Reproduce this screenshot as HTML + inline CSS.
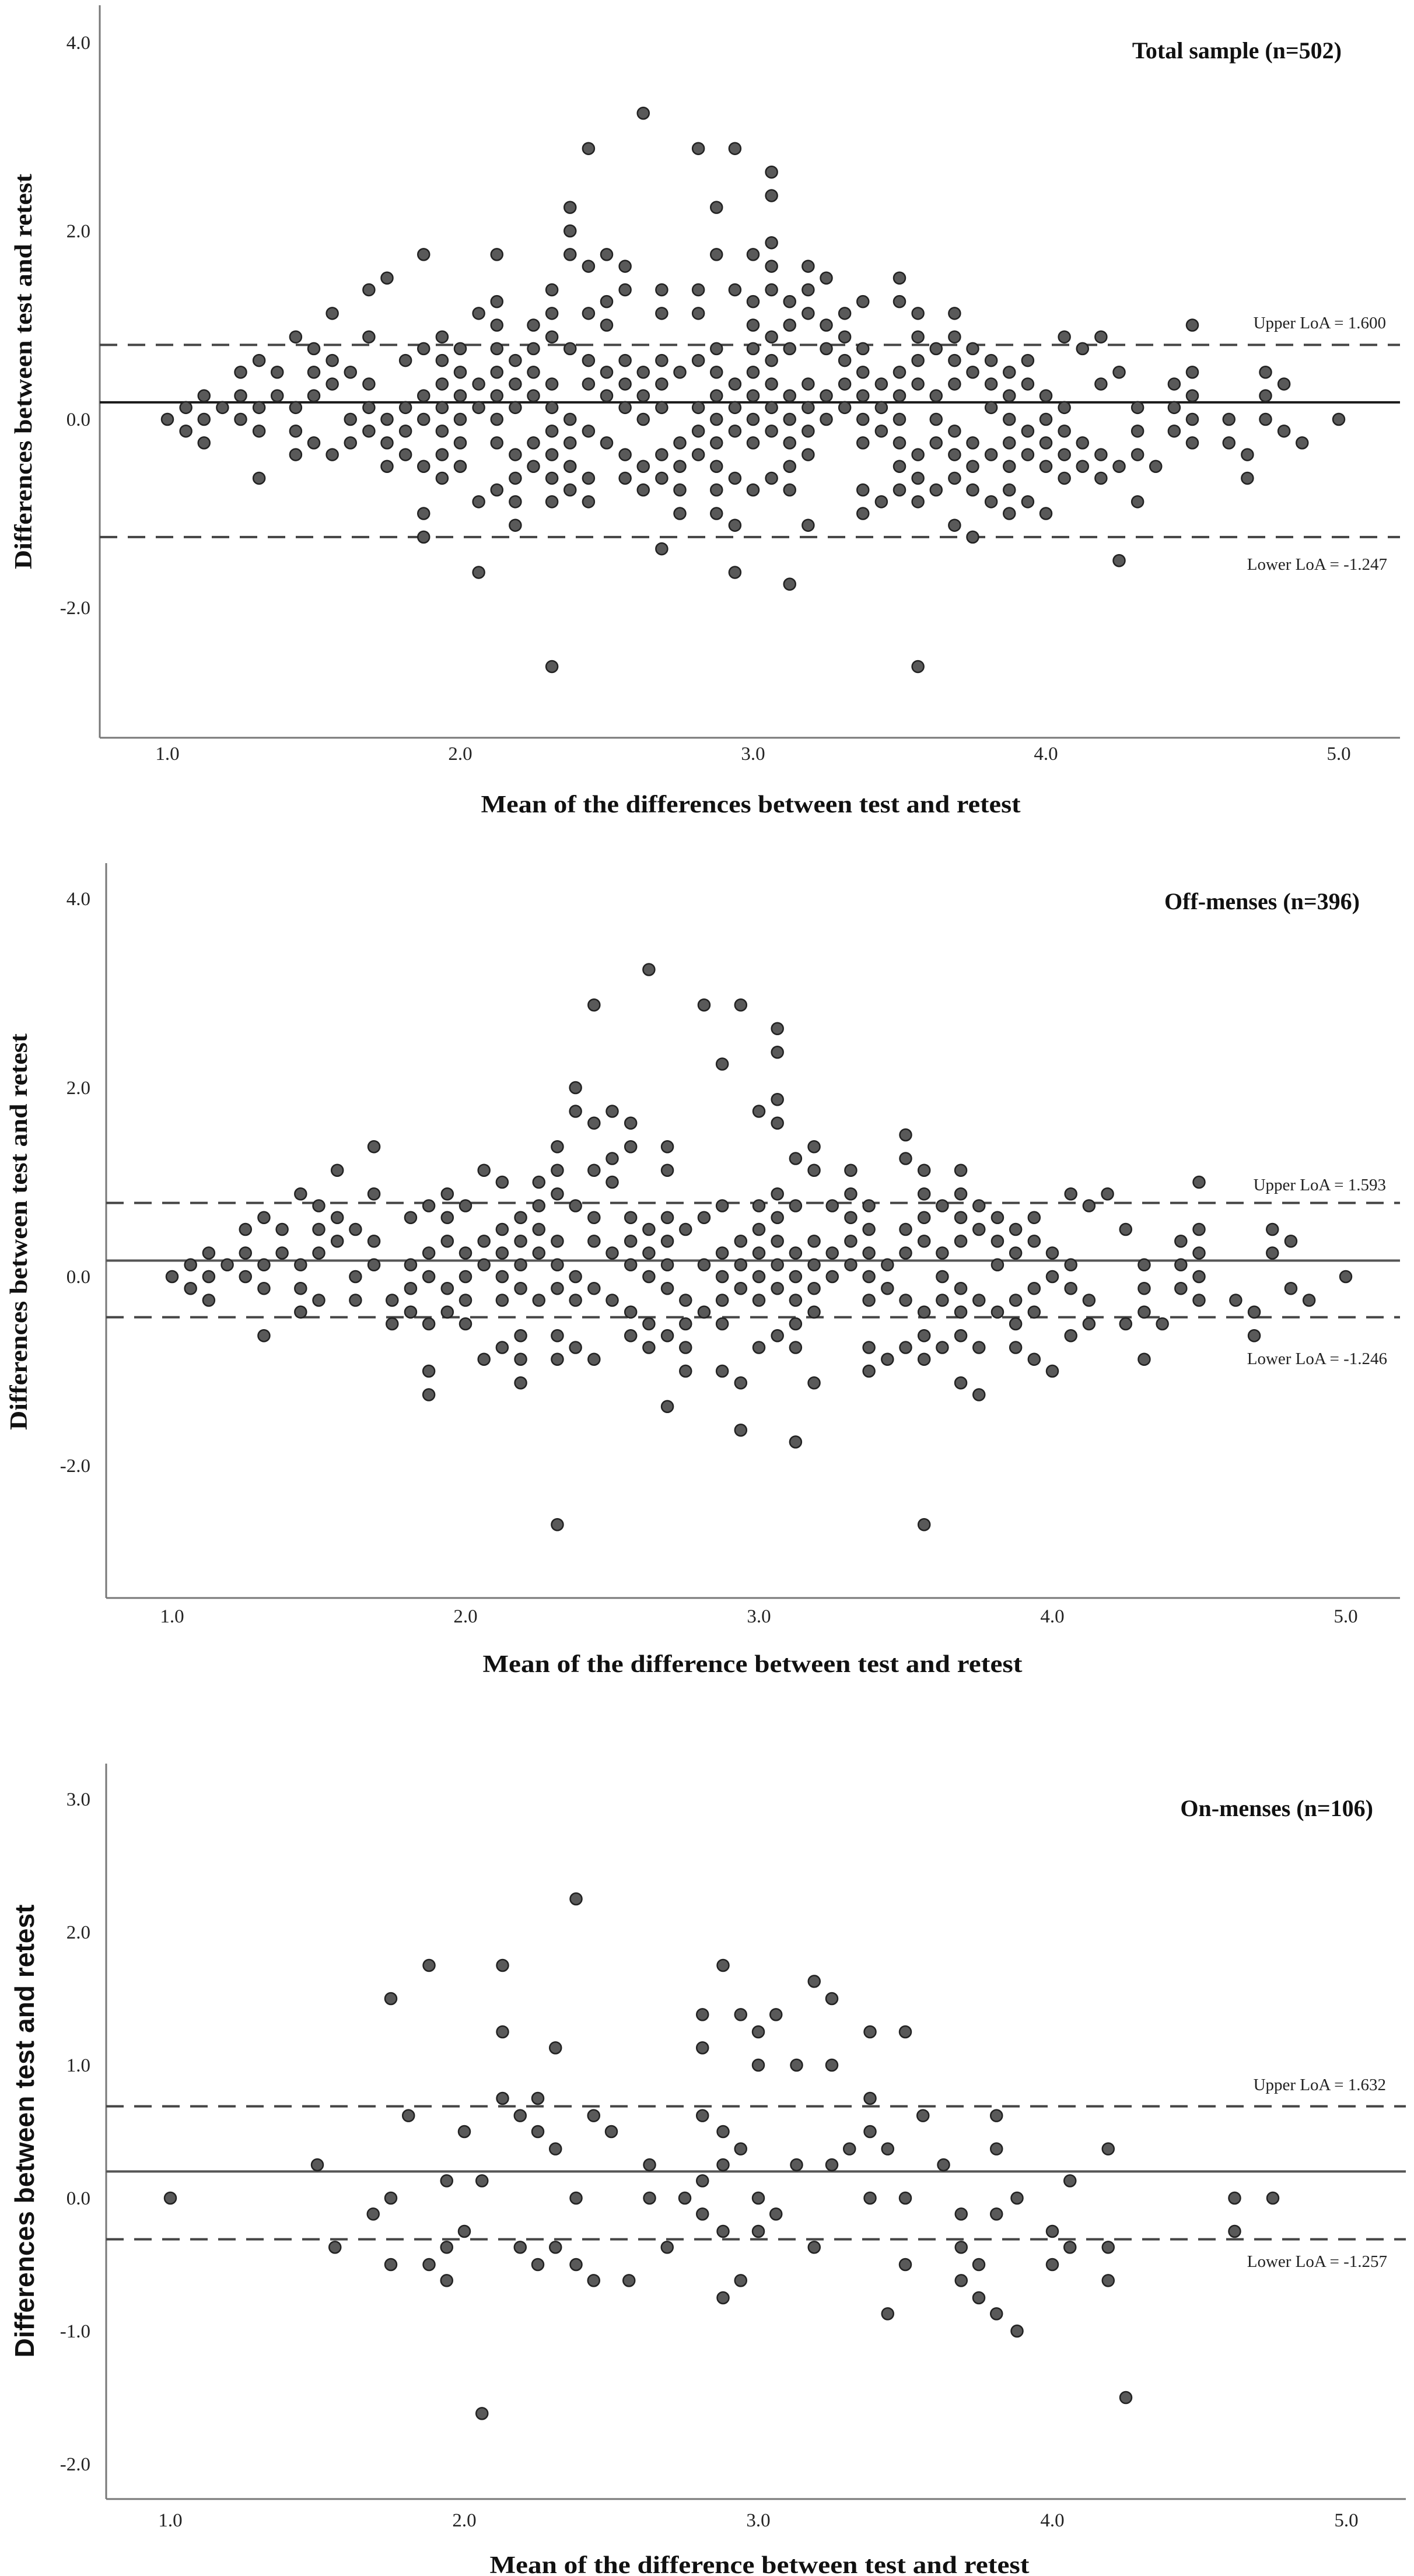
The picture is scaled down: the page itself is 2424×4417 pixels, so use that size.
<!DOCTYPE html>
<html><head><meta charset="utf-8"><style>
html,body{margin:0;padding:0;background:#fff;}
svg{display:block;}
</style></head><body>
<svg id="chart" width="2424" height="4417" viewBox="0 0 2424 4417" xmlns="http://www.w3.org/2000/svg" font-family="'Liberation Serif', serif"></svg>
<script>
// ---------- DATA ----------
const colX = [1,1.063,1.125,1.188,1.25,1.313,1.375,1.438,1.5,1.563,1.625,1.688,1.75,1.813,1.875,1.938,2,2.063,2.125,2.188,2.25,2.313,2.375,2.438,2.5,2.563,2.625,2.688,2.75,2.813,2.875,2.938,3,3.063,3.125,3.188,3.25,3.313,3.375,3.438,3.5,3.563,3.625,3.688,3.75,3.813,3.875,3.938,4,4.063,4.125,4.188,4.25,4.313,4.375,4.438,4.5,4.625,4.688,4.75,4.813,4.875,5];
const totalDiffs = [[0],[.125,-.125],[.25,0,-.25],[.125],[.5,.25,0],[.625,.125,-.125,-.625],[.5,.25],[.875,.125,-.125,-.375],[.75,.5,.25,-.25],[1.125,.625,.375,-.375],[.5,0,-.25],[1.375,.875,.375,.125,-.125],[1.5,0,-.25,-.5],[.625,.125,-.125,-.375],[1.75,.75,.25,0,-.5,-1,-1.25],[.875,.625,.375,.125,-.125,-.375,-.625],[.75,.5,.25,0,-.25,-.5],[1.125,.375,.125,-.875,-1.625],[1.75,1.25,1,.75,.5,.25,0,-.25,-.75],[.625,.375,.125,-.375,-.625,-.875,-1.125],[1,.75,.5,.25,-.25,-.5],[1.375,1.125,.875,.375,.125,-.125,-.375,-.625,-.875,-2.625],[2.25,2,1.75,.75,0,-.25,-.5,-.75],[2.875,1.625,1.125,.625,.375,-.125,-.625,-.875],[1.75,1.25,1,.5,.25,-.25],[1.625,1.375,.625,.375,.125,-.375,-.625],[3.25,.5,.25,0,-.5,-.75],[1.375,1.125,.625,.375,.125,-.375,-.625,-1.375],[.5,-.25,-.5,-.75,-1],[2.875,1.375,1.125,.625,.125,-.125,-.375],[2.25,1.75,.75,.5,.25,0,-.25,-.5,-.75,-1],[2.875,1.375,.375,.125,-.125,-.625,-1.125,-1.625],[1.75,1.25,1,.75,.5,.25,0,-.25,-.75],[2.625,2.375,1.875,1.625,1.375,.875,.625,.375,.125,-.125,-.625],[1.25,1,.75,.25,0,-.25,-.5,-.75,-1.75],[1.625,1.375,1.125,.375,.125,-.125,-.375,-1.125],[1.5,1,.75,.25,0],[1.125,.875,.625,.375,.125],[1.25,.75,.5,.25,0,-.25,-.75,-1],[.375,.125,-.125,-.875],[1.5,1.25,.5,.25,0,-.25,-.5,-.75],[1.125,.875,.625,.375,-.375,-.625,-.875,-2.625],[.75,.25,0,-.25,-.75],[1.125,.875,.625,.375,-.125,-.375,-.625,-1.125],[.75,.5,-.25,-.5,-.75,-1.25],[.625,.375,.125,-.375,-.875],[.5,.25,0,-.25,-.5,-.75,-1],[.625,.375,-.125,-.375,-.875],[.25,0,-.25,-.5,-1],[.875,.125,-.125,-.375,-.625],[.75,-.25,-.5],[.875,.375,-.375,-.625],[.5,-.5,-1.5],[.125,-.125,-.375,-.875],[-.5],[.375,.125,-.125],[1,.5,.25,0,-.25],[0,-.25],[-.375,-.625],[.5,.25,0],[.375,-.125],[-.25],[0]];
const offDiffs = [[0],[.125,-.125],[.25,0,-.25],[.125],[.5,.25,0],[.625,.125,-.125,-.625],[.5,.25],[.875,.125,-.125,-.375],[.75,.5,.25,-.25],[1.125,.625,.375],[.5,0,-.25],[1.375,.875,.375,.125],[-.25,-.5],[.625,.125,-.125,-.375],[.75,.25,0,-.5,-1,-1.25],[.875,.625,.375,-.125,-.375],[.75,.25,0,-.25,-.5],[1.125,.375,.125,-.875],[1,.5,.25,0,-.25,-.75],[.625,.375,.125,-.125,-.625,-.875,-1.125],[1,.75,.5,.25,-.25],[1.375,1.125,.875,.375,.125,-.125,-.625,-.875,-2.625],[2,1.75,.75,0,-.25,-.75],[2.875,1.625,1.125,.625,.375,-.125,-.875],[1.75,1.25,1,.25,-.25],[1.625,1.375,.625,.375,.125,-.375,-.625],[3.25,.5,.25,0,-.5,-.75],[1.375,1.125,.625,.375,.125,-.125,-.625,-1.375],[.5,-.25,-.5,-.75,-1],[2.875,.625,.125,-.375],[2.25,.75,.25,0,-.25,-.5,-1],[2.875,.375,.125,-.125,-1.125,-1.625],[1.75,.75,.5,.25,0,-.25,-.75],[2.625,2.375,1.875,1.625,.875,.625,.375,.125,-.125,-.625],[1.25,.75,.25,0,-.25,-.5,-.75,-1.75],[1.375,1.125,.375,.125,-.125,-.375,-1.125],[.75,.25,0],[1.125,.875,.625,.375,.125],[.75,.5,.25,0,-.25,-.75,-1],[.125,-.125,-.875],[1.5,1.25,.5,.25,-.25,-.75],[1.125,.875,.625,.375,-.375,-.625,-.875,-2.625],[.75,.25,0,-.25,-.75],[1.125,.875,.625,.375,-.125,-.375,-.625,-1.125],[.75,.5,-.25,-.75,-1.25],[.625,.375,.125,-.375],[.5,.25,-.25,-.5,-.75],[.625,.375,-.125,-.375,-.875],[.25,0,-1],[.875,.125,-.125,-.625],[.75,-.25,-.5],[.875],[.5,-.5],[.125,-.125,-.375,-.875],[-.5],[.375,.125,-.125],[1,.5,.25,0,-.25],[-.25],[-.375,-.625],[.5,.25],[.375,-.125],[-.25],[0]];
const onMean = [1,1.5,1.56,1.69,1.75,1.75,1.75,1.81,1.88,1.88,1.94,1.94,1.94,2,2,2.06,2.06,2.13,2.13,2.13,2.19,2.19,2.25,2.25,2.25,2.31,2.31,2.31,2.38,2.38,2.38,2.44,2.44,2.5,2.56,2.63,2.63,2.69,2.75,2.81,2.81,2.81,2.81,2.81,2.88,2.88,2.88,2.88,2.88,2.94,2.94,2.94,3,3,3,3,3.06,3.06,3.13,3.13,3.19,3.19,3.25,3.25,3.25,3.31,3.38,3.38,3.38,3.38,3.44,3.44,3.5,3.5,3.5,3.56,3.63,3.69,3.69,3.69,3.75,3.75,3.81,3.81,3.81,3.81,3.88,3.88,4,4,4.06,4.06,4.19,4.19,4.19,4.25,4.62,4.62,4.75];
const onDiff = [0,.25,-.37,-.12,1.5,0,-.5,.62,1.75,-.5,.13,-.37,-.62,.5,-.25,.13,-1.62,1.75,1.25,.75,.62,-.37,.75,.5,-.5,1.13,.37,-.37,2.25,0,-.5,.62,-.62,.5,-.62,.25,0,-.37,0,1.38,1.13,.62,.13,-.12,1.75,.5,.25,-.25,-.75,1.38,.37,-.62,1.25,1,0,-.25,1.38,-.12,1,.25,1.63,-.37,1.5,1,.25,.37,1.25,.75,.5,0,.37,-.87,1.25,0,-.5,.62,.25,-.12,-.37,-.62,-.5,-.75,.62,.37,-.12,-.87,0,-1,-.25,-.5,.13,-.37,.37,-.37,-.62,-1.5,0,-.25,0];
const xTicks = [1,2,3,4,5];
const yTicksA = [4,2,0,-2];
const yTicksC = [3,2,1,0,-1,-2];
const biasLines = [0.18, 0.17, 0.2];
const upperLines = [0.79, 0.78, 0.69];
const lowerLines = [-1.25, -0.43, -0.31];
const titles = ["Total sample (n=502)","Off-menses (n=396)","On-menses (n=106)"];
const upperLabels = ["Upper LoA = 1.600","Upper LoA = 1.593","Upper LoA = 1.632"];
const lowerLabels = ["Lower LoA = -1.247","Lower LoA = -1.246","Lower LoA = -1.257"];

// ---------- GEOMETRY ----------
const panels = [
 {L:171,T:9,B:1265,R:2400,x1:287,xu:502,y0:719,yu:161.5,yt:yTicksA,xl:1292,tY:86,uY:553,lY:967,xtY:1379,xtx:1287,ytX:39,ytY:637,ytLen:678,xt:"Mean of the differences between test and retest",sans:false,meanCol:"#1a1a1a"},
 {L:182,T:1480,B:2740,R:2400,x1:295,xu:503,y0:2189,yu:162,yt:yTicksA,xl:2771,tY:1545,uY:2031,lY:2329,xtY:2853,xtx:1290,ytX:31,ytY:2112,ytLen:680,xt:"Mean of the difference between test and retest",sans:false,meanCol:"#555"},
 {L:182,T:3024,B:4285,R:2410,x1:292,xu:504,y0:3769,yu:228,yt:yTicksC,xl:4321,tY:3100,uY:3574,lY:3877,xtY:4398,xtx:1302,ytX:43,ytY:3654,ytLen:777,xt:"Mean of the difference between test and retest",sans:true,meanCol:"#555"}
];
const NS="http://www.w3.org/2000/svg";
const svg=document.getElementById('chart');
function mk(tag,attrs,parent,txt){const e=document.createElementNS(NS,tag);for(const k in attrs)e.setAttribute(k,attrs[k]);if(txt!==undefined)e.textContent=txt;(parent||svg).appendChild(e);return e;}

function drawPanel(i,points){
  const p=panels[i];
  const X=v=>p.x1+(v-1)*p.xu, Y=v=>p.y0-v*p.yu;
  const g=mk('g',{});
  
  
  const ya=mk('line',{x1:p.L,y1:p.T,x2:p.L,y2:p.B,stroke:'#777','stroke-width':3},g);
  
  
  const xa=mk('line',{x1:p.L,y1:p.B,x2:p.R,y2:p.B,stroke:'#777','stroke-width':3},g);
  
  
  xTicks.forEach(v=>{const t=mk('text',{x:X(v),y:p.xl+11,'text-anchor':'middle','font-size':33,fill:'#222'},g,v.toFixed(1));
    
    });
  p.yt.forEach(v=>{const t=mk('text',{x:155,y:Y(v)+11,'text-anchor':'end','font-size':33,fill:'#222'},g,v.toFixed(1));
    
    });
  const ub=mk('line',{x1:p.L,y1:Y(upperLines[i]),x2:p.R,y2:Y(upperLines[i]),stroke:'#444','stroke-width':4,'stroke-dasharray':'30 18'},g);
  
  
  const lb=mk('line',{x1:p.L,y1:Y(lowerLines[i]),x2:p.R,y2:Y(lowerLines[i]),stroke:'#444','stroke-width':4,'stroke-dasharray':'30 18'},g);
  
  
  const ml=mk('line',{x1:p.L,y1:Y(biasLines[i]),x2:p.R,y2:Y(biasLines[i]),stroke:p.meanCol,'stroke-width':4},g);
  
  
  points.forEach(pt=>{const c=mk('circle',{cx:X(pt[0]),cy:Y(pt[1]),r:10,fill:'#595959',stroke:'#222','stroke-width':2.5},g);
    
    });
  const ti=mk('text',{x:i==2?2354:(i==1?2331:2300),y:p.tY+14,'text-anchor':'end','font-size':40,'font-weight':'bold',fill:'#111'},g,titles[i]);
  
  
  const ul=mk('text',{x:2376,y:p.uY+10,'text-anchor':'end','font-size':29,fill:'#222'},g,upperLabels[i]);
  
  
  const ll=mk('text',{x:2378,y:p.lY+10,'text-anchor':'end','font-size':29,fill:'#222'},g,lowerLabels[i]);
  
  
  const xt=mk('text',{x:p.xtx,y:p.xtY+14,'text-anchor':'middle','font-size':42,'font-weight':'bold',fill:'#111',textLength:925,lengthAdjust:'spacingAndGlyphs'},g,p.xt);
  
  
  const yt=mk('text',{x:0,y:0,'text-anchor':'middle','font-size':p.sans?46:42,'font-weight':'bold',fill:'#111',textLength:p.ytLen,lengthAdjust:'spacingAndGlyphs',transform:`translate(${p.ytX+15},${p.ytY}) rotate(-90)`,'font-family':p.sans?"'Liberation Sans', sans-serif":"'Liberation Serif', serif"},g,"Differences between test and retest");
  
  
}
function colsToPts(xs,ds){const out=[];xs.forEach((x,j)=>ds[j].forEach(d=>out.push([x,d])));return out;}
drawPanel(0,colsToPts(colX,totalDiffs));
drawPanel(1,colsToPts(colX,offDiffs));
drawPanel(2,onMean.map((m,j)=>[m,onDiff[j]]));
</script>
</body></html>
